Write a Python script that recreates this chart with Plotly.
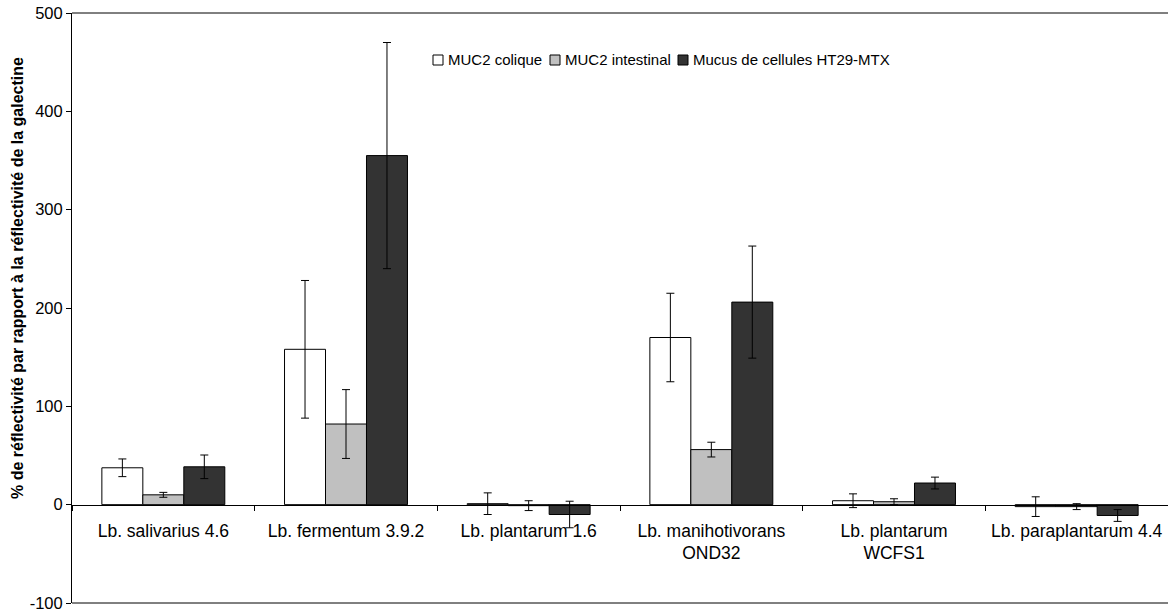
import plotly.graph_objects as go

categories = ["Lb. salivarius 4.6", "Lb. fermentum 3.9.2", "Lb. plantarum 1.6",
              "Lb. manihotivorans<br>OND32", "Lb. plantarum<br>WCFS1", "Lb. paraplantarum 4.4"]
muc2_colique = [37.5, 158, 1, 170, 4, -2]
err_colique = [9, 70, 11, 45, 7, 10]
muc2_intestinal = [10, 82, -1, 56, 3, -2]
err_intestinal = [2.5, 35, 5, 7.5, 3, 3]
ht29_mtx = [38.5, 355, -10, 206, 22, -11]
err_ht29_mtx = [12, 115, 13.5, 57, 6, 6]
y_tick_values = [-100, 0, 100, 200, 300, 400, 500]
y_tick_labels = ["-100", "0", "100", "200", "300", "400", "500"]

series_names = ["MUC2 colique", "MUC2 intestinal", "Mucus de cellules HT29-MTX"]
series_values = [muc2_colique, muc2_intestinal, ht29_mtx]
series_errors = [err_colique, err_intestinal, err_ht29_mtx]
series_colors = ["#FFFFFF", "#C0C0C0", "#333333"]

FONT = "Arial, 'Liberation Sans', sans-serif"

W, H = 1168, 614
ml, mr, mt, mb = 72, 0, 13, 11
pw = W - ml - mr
ph = H - mt - mb


def px_x(p):
    return (p - ml) / pw


def px_y(p):
    return (H - mb - p) / ph


fig = go.Figure()
for name, vals, errs, color in zip(series_names, series_values, series_errors, series_colors):
    fig.add_trace(go.Bar(
        x=categories, y=vals, name=name,
        marker=dict(color=color, line=dict(color="#000000", width=1)),
        error_y=dict(type="data", array=errs, visible=True, color="#000000",
                     thickness=1, width=4),
        showlegend=False,
    ))

# legend drawn as small squares + text (Excel-style compact legend)
legend_text_x = [447, 564, 692]
legend_y = 60
shapes = [
    dict(type="line", xref="paper", yref="paper", x0=0, x1=1, y0=1, y1=1,
         line=dict(color="#000000", width=1)),
    dict(type="line", xref="paper", yref="paper", x0=0, x1=1, y0=0, y1=0,
         line=dict(color="#000000", width=1)),
]
annotations = [
    dict(text="% de réflectivité par rapport à la réflectivité de la galectine",
         xref="paper", yref="paper", x=px_x(17), y=px_y(278),
         textangle=-90, showarrow=False, xanchor="center", yanchor="middle",
         font=dict(family=FONT, size=16, color="#000000", weight="bold")),
]
for name, color, tx in zip(series_names, series_colors, legend_text_x):
    shapes.append(dict(type="rect", xref="paper", yref="paper",
                       x0=px_x(tx - 14), x1=px_x(tx - 4),
                       y0=px_y(legend_y + 5), y1=px_y(legend_y - 5),
                       fillcolor=color, line=dict(color="#000000", width=1)))
    annotations.append(dict(text=name, xref="paper", yref="paper",
                            x=px_x(tx - 1), y=px_y(legend_y), xanchor="left", yanchor="middle",
                            showarrow=False,
                            font=dict(family=FONT, size=15, color="#000000")))

fig.update_layout(
    width=W, height=H,
    margin=dict(l=ml, r=mr, t=mt, b=mb),
    paper_bgcolor="#FFFFFF", plot_bgcolor="#FFFFFF",
    barmode="group", bargap=0.327, bargroupgap=0,
    font=dict(family=FONT, color="#000000"),
    showlegend=False,
    xaxis=dict(
        type="category", anchor="free", position=1/6,
        showline=True, linecolor="#000000", linewidth=1,
        ticks="outside", tickson="boundaries", ticklen=5, tickcolor="#000000",
        ticklabelstandoff=10,
        tickfont=dict(family=FONT, size=17.5, color="#000000"),
        showgrid=False, zeroline=False,
    ),
    yaxis=dict(
        range=[-100, 500], tickvals=y_tick_values, ticktext=y_tick_labels,
        showline=True, linecolor="#000000", linewidth=1,
        ticks="outside", ticklen=5, tickcolor="#000000",
        tickfont=dict(family=FONT, size=16.5, color="#000000"),
        showgrid=False, zeroline=False,
    ),
    shapes=shapes,
    annotations=annotations,
)

fig.write_html("out.html")
